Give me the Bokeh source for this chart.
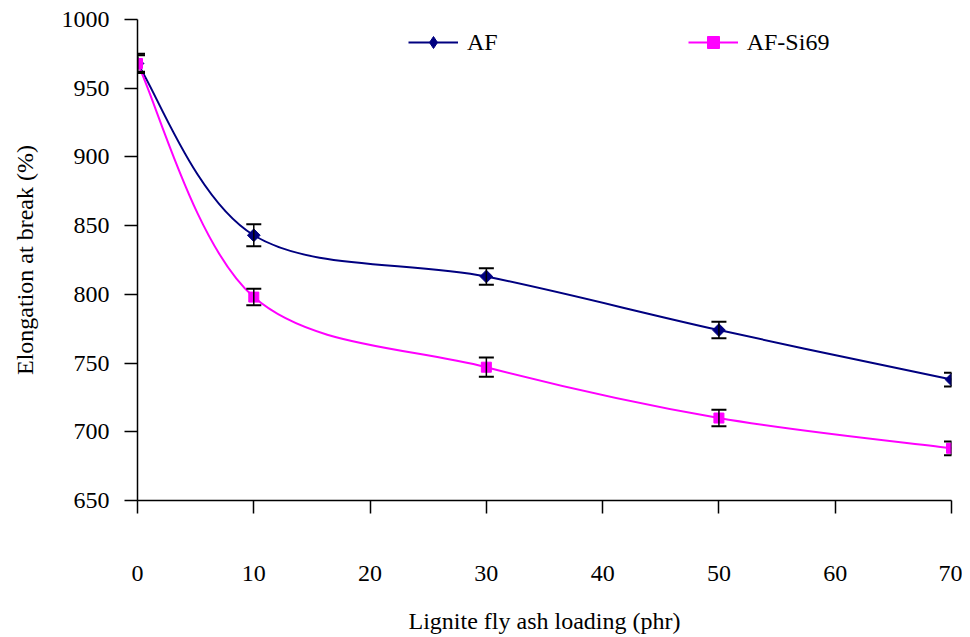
import numpy as np
from bokeh.plotting import figure
from bokeh.models import (Whisker, ColumnDataSource, Legend, LegendItem,
                          FixedTicker, TeeHead, Range1d)
from bokeh.embed import file_html
from bokeh.resources import INLINE

# ---- data ----
loading = [0, 10, 30, 50, 70]
af = [968, 843, 813, 774, 738]
af_err = [7, 8, 6, 6, 5]
af_si69 = [968, 798, 747, 710, 688]
af_si69_err = [6, 6, 7, 6, 5]
x_ticks = [0, 10, 20, 30, 40, 50, 60, 70]
y_ticks = [650, 700, 750, 800, 850, 900, 950, 1000]

FONT = "'Liberation Serif', 'Times New Roman', serif"
NAVY = "#000080"
MAGENTA = "#FF00FF"

p = figure(width=962, height=637, output_backend="svg", toolbar_location=None,
           x_range=Range1d(0, 70), y_range=Range1d(650, 1000),
           min_border_left=137, min_border_right=11, min_border_top=19,
           min_border_bottom=137)
p.outline_line_color = None
p.xgrid.visible = False
p.ygrid.visible = False


def smooth_segments(xs, ys):
    """Cubic Bezier control points (Excel-style smoothing) for the data."""
    n = len(xs)
    pts = list(zip(xs, ys))
    out = dict(x0=[], y0=[], x1=[], y1=[], cx0=[], cy0=[], cx1=[], cy1=[])
    for i in range(n - 1):
        p0 = pts[i - 1] if i > 0 else pts[i]
        p1 = pts[i]
        p2 = pts[i + 1]
        p3 = pts[i + 2] if i + 2 < n else pts[i + 1]
        out["x0"].append(p1[0]); out["y0"].append(p1[1])
        out["x1"].append(p2[0]); out["y1"].append(p2[1])
        out["cx0"].append(p1[0] + (p2[0] - p0[0]) / 6.0)
        out["cy0"].append(p1[1] + (p2[1] - p0[1]) / 6.0)
        out["cx1"].append(p2[0] - (p3[0] - p1[0]) / 6.0)
        out["cy1"].append(p2[1] - (p3[1] - p1[1]) / 6.0)
    return ColumnDataSource(out)


series = [
    ("AF", af, af_err, NAVY, "square", np.pi / 4, 9, "diamond"),
    ("AF-Si69", af_si69, af_si69_err, MAGENTA, "square", 0, 10, "square"),
]

items = []
for name, ys, errs, color, marker, ang, size, leg_marker in series:
    seg = smooth_segments(loading, ys)
    bz = p.bezier(x0="x0", y0="y0", x1="x1", y1="y1", cx0="cx0", cy0="cy0",
                  cx1="cx1", cy1="cy1", source=seg, line_color=color,
                  line_width=2)
    src = ColumnDataSource(dict(x=loading, y=ys,
                                lo=[v - e for v, e in zip(ys, errs)],
                                hi=[v + e for v, e in zip(ys, errs)]))
    w = Whisker(base="x", lower="lo", upper="hi", source=src,
                line_color="black", line_width=1.5, level="glyph",
                upper_head=TeeHead(size=15, line_color="black", line_width=2),
                lower_head=TeeHead(size=15, line_color="black", line_width=2))
    p.add_layout(w)
    p.scatter(x="x", y="y", source=src, marker=marker, angle=ang,
              size=size, fill_color=color, line_color=color)
    # legend-only marker (not drawn in the plot area)
    leg_sc = p.scatter(x=[np.nan], y=[np.nan], marker=leg_marker, size=size,
                       fill_color=color, line_color=color)
    items.append(LegendItem(label=name, renderers=[bz, leg_sc]))

legend = Legend(items=items, orientation="horizontal", location=(271, 443),
                glyph_width=50, glyph_height=30, label_standoff=9, spacing=190,
                padding=0, margin=0, border_line_color=None,
                background_fill_alpha=0, label_text_font=FONT,
                label_text_font_size="24px", label_text_color="black")
p.add_layout(legend)

# axes
p.xaxis.ticker = FixedTicker(ticks=x_ticks)
p.yaxis.ticker = FixedTicker(ticks=y_ticks)
for ax in (p.xaxis[0], p.yaxis[0]):
    ax.axis_line_color = "black"
    ax.axis_line_width = 1.5
    ax.major_tick_line_color = "black"
    ax.major_tick_line_width = 1.5
    ax.major_tick_in = 0
    ax.minor_tick_line_color = None
    ax.major_label_text_font = FONT
    ax.major_label_text_font_size = "24px"
    ax.major_label_text_color = "black"
    ax.axis_label_text_font = FONT
    ax.axis_label_text_font_size = "24px"
    ax.axis_label_text_font_style = "normal"
    ax.axis_label_text_color = "black"

p.xaxis.major_tick_out = 13
p.xaxis.major_label_standoff = 52
p.xaxis.axis_label = "Lignite fly ash loading (phr)"
p.xaxis.axis_label_standoff = 24

p.yaxis.major_tick_out = 13
p.yaxis.major_label_standoff = 15
p.yaxis.axis_label = "Elongation at break (%)"
p.yaxis.axis_label_standoff = 21

open("out.html", "w").write(file_html(p, INLINE))
